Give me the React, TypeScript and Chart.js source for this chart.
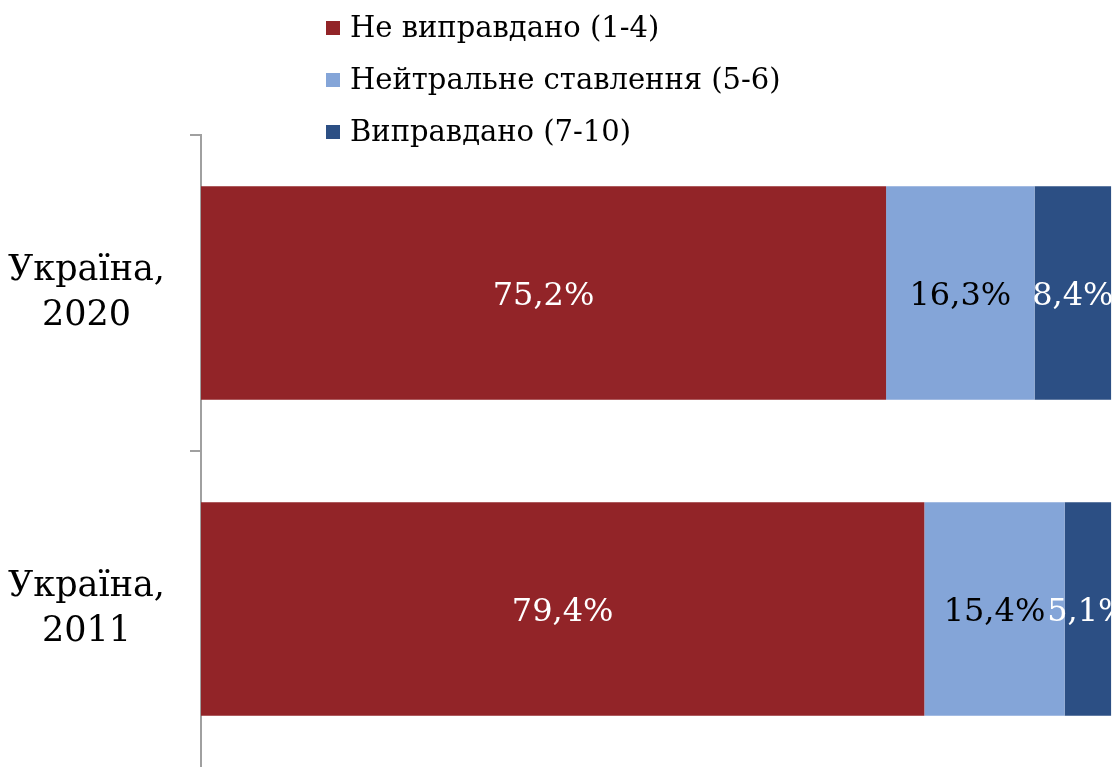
import React, { useEffect, useRef } from "react";
import { Chart, registerables } from "chart.js";

Chart.register(...registerables);

const categories: string[][] = [["Україна,", "2020"], ["Україна,", "2011"]];
const seriesNames: string[] = ["Не виправдано (1-4)", "Нейтральне ставлення (5-6)", "Виправдано (7-10)"];
const notJustified: number[] = [75.2, 79.4];
const neutral: number[] = [16.3, 15.4];
const justified: number[] = [8.4, 5.1];
const seriesColors: string[] = ["#922428", "#84A5D8", "#2C4F84"];
const labelColors: string[] = ["#ffffff", "#000000", "#ffffff"];

const FONT = "'DejaVu Serif', serif";
const AXIS_GRAY = "#a0a0a0";

const fmt = (v: number) => v.toFixed(1).replace(".", ",") + "%";

const dataLabelPlugin = {
  id: "dataLabels",
  afterDatasetsDraw(chart: any) {
    const ctx = chart.ctx;
    ctx.save();
    ctx.font = `32px ${FONT}`;
    ctx.textAlign = "center";
    ctx.textBaseline = "middle";
    chart.data.datasets.forEach((ds: any, di: number) => {
      const meta = chart.getDatasetMeta(di);
      meta.data.forEach((bar: any, i: number) => {
        const x = (bar.x + bar.base) / 2;
        ctx.fillStyle = labelColors[di];
        ctx.fillText(fmt(ds.data[i]), x, bar.y + 4);
      });
    });
    ctx.restore();
  },
};

const legendPlugin = {
  id: "customLegend",
  afterDraw(chart: any) {
    const ctx = chart.ctx;
    ctx.save();
    ctx.font = `29px ${FONT}`;
    ctx.textBaseline = "middle";
    ctx.textAlign = "left";
    chart.data.datasets.forEach((ds: any, i: number) => {
      const y = 28 + i * 52;
      ctx.fillStyle = ds.backgroundColor;
      ctx.fillRect(326, y - 7, 14, 14);
      ctx.fillStyle = "#000000";
      ctx.fillText(ds.label, 350, y + 1);
    });
    ctx.restore();
  },
};

export default function App() {
  const ref = useRef<HTMLCanvasElement>(null);
  useEffect(() => {
    if (!ref.current) return;
    const chart = new Chart(ref.current, {
      type: "bar",
      data: {
        labels: categories as any,
        datasets: [
          { label: seriesNames[0], data: notJustified, backgroundColor: seriesColors[0] },
          { label: seriesNames[1], data: neutral, backgroundColor: seriesColors[1] },
          { label: seriesNames[2], data: justified, backgroundColor: seriesColors[2] },
        ],
      },
      options: {
        indexAxis: "y",
        animation: false,
        responsive: false,
        maintainAspectRatio: false,
        layout: { padding: { top: 135, right: 0, bottom: -5, left: 0 } },
        datasets: { bar: { categoryPercentage: 0.675, barPercentage: 1 } },
        plugins: { legend: { display: false }, tooltip: { enabled: false } },
        scales: {
          x: { stacked: true, display: false, min: 0, max: 100 },
          y: {
            stacked: true,
            border: { display: true, color: AXIS_GRAY, width: 2 },
            grid: {
              display: true,
              drawOnChartArea: false,
              drawTicks: true,
              tickLength: 11,
              color: (c: any) => (c.type === "tick" ? AXIS_GRAY : "rgba(0,0,0,0)"),
              lineWidth: 2,
              offset: true,
            },
            ticks: { color: "#000000", font: { family: FONT, size: 35, lineHeight: 1.29 }, crossAlign: "center", padding: 25 },
            afterFit(scale: any) {
              scale.width = 201;
              scale.paddingTop = 0;
              scale.paddingBottom = 0;
            },
          },
        },
      },
      plugins: [dataLabelPlugin, legendPlugin],
    });
    return () => chart.destroy();
  }, []);
  return (
    <div style={{ position: "fixed", left: 0, top: 0, width: 1112, height: 767, background: "#ffffff" }}>
      <canvas ref={ref} width={1112} height={767} style={{ display: "block" }} />
    </div>
  );
}
